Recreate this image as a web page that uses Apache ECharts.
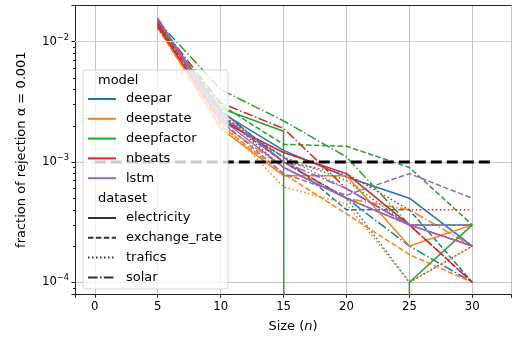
<!DOCTYPE html>
<html><head><meta charset="utf-8">
<script src="https://cdn.jsdelivr.net/npm/echarts@6/dist/echarts.min.js"></script>
<style>html,body{margin:0;padding:0;background:#fff}#c{width:514px;height:339px}</style>
</head><body><div id="c"></div>
<script>
// ---- data ----
const sizes = [5, 10, 15, 20, 25, 30];
const models = ['deepar', 'deepstate', 'deepfactor', 'nbeats', 'lstm'];
const datasets = ['electricity', 'exchange_rate', 'trafics', 'solar'];
const alphaLevel = 0.001;
const refLineX = [0, 31.5];
const xTicks = [0, 5, 10, 15, 20, 25, 30];
const yMinor = [8e-5, 9e-5, 2e-4, 3e-4, 4e-4, 5e-4, 6e-4, 7e-4, 8e-4, 9e-4,
                2e-3, 3e-3, 4e-3, 5e-3, 6e-3, 7e-3, 8e-3, 9e-3];

const deepar_electricity   = [0.0152, 0.0026, 0.00125, 0.00075, 0.0005, 0.0002];
const deepar_exchange_rate = [0.0148, 0.0023, 0.0011, 0.0004, 0.0004, 0.0001];
const deepar_trafics       = [0.0140, 0.0025, 0.0009, 0.0005, 0.0001, 0.0002];
const deepar_solar         = [0.0145, 0.0027, 0.0010, 0.0005, 0.0002, 0.0001];

const deepstate_electricity   = [0.0135, 0.0019, 0.00077, 0.00077, 0.0002, 0.0003];
const deepstate_exchange_rate = [0.0130, 0.0020, 0.0008, 0.00037, 0.00017, 0.0001];
const deepstate_trafics       = [0.0128, 0.0022, 0.00062, 0.00045, 0.0001, 0.0002];
const deepstate_solar         = [0.0138, 0.0021, 0.0009, 0.0005, 0.0004, 0.0002];

const deepfactor_electricity   = [0.0140, 0.0028, 0.0018, 0, 0.0001, 0.0003];
const deepfactor_exchange_rate = [0.0135, 0.0030, 0.0014, 0.00135, 0.0009, 0.0003];
const deepfactor_trafics       = [0.0150, 0.0025, 0.0011, 0.0007, 0.0003, 0.0003];
const deepfactor_solar         = [0.0148, 0.0040, 0.0022, 0.0011, 0.0003, 0.0003];

const nbeats_electricity   = [0.0135, 0.0022, 0.0012, 0.0008, 0.0003, 0.0002];
const nbeats_exchange_rate = [0.0140, 0.0024, 0.0010, 0.0005, 0.0003, 0.0001];
const nbeats_trafics       = [0.0130, 0.0027, 0.0010, 0.0008, 0.0004, 0.0004];
const nbeats_solar         = [0.0145, 0.0031, 0.0019, 0.0006, 0.0003, 0.0001];

const lstm_electricity   = [0.0158, 0.0023, 0.0009, 0.0005, 0.0003, 0.0002];
const lstm_exchange_rate = [0.0155, 0.0022, 0.0008, 0.00053, 0.0008, 0.0005];
const lstm_trafics       = [0.0150, 0.0024, 0.0011, 0.0006, 0.0003, 0.0003];
const lstm_solar         = [0.0152, 0.0025, 0.0010, 0.0006, 0.0003, 0.0003];

const values = {
  deepar: [deepar_electricity, deepar_exchange_rate, deepar_trafics, deepar_solar],
  deepstate: [deepstate_electricity, deepstate_exchange_rate, deepstate_trafics, deepstate_solar],
  deepfactor: [deepfactor_electricity, deepfactor_exchange_rate, deepfactor_trafics, deepfactor_solar],
  nbeats: [nbeats_electricity, nbeats_exchange_rate, nbeats_trafics, nbeats_solar],
  lstm: [lstm_electricity, lstm_exchange_rate, lstm_trafics, lstm_solar]
};

// ---- styles ----
const colors = {deepar:'#1f77b4', deepstate:'#ff7f0e', deepfactor:'#2ca02c', nbeats:'#d62728', lstm:'#9467bd'};
const LW = 1.5;
const dashes = {electricity:'solid', exchange_rate:[5.5, 2.4], trafics:[1.5, 2.5], solar:[9.6, 2.4, 1.5, 2.4]};
const FONT = 'DejaVu Sans';
const LOGMIN = -4.0998, LOGMAX = -1.695;
const YMIN = Math.pow(10, LOGMIN), YMAX = Math.pow(10, LOGMAX);
const XMIN = -1.575, XMAX = 33.075;

const series = [];
// minor grid lines
series.push({
  type:'line', data:[], silent:true, z:1,
  markLine:{silent:true, symbol:'none', animation:false, label:{show:false},
    lineStyle:{color:'#cfcfcf', width:1, type:'solid'},
    data: yMinor.map(v => ({yAxis: v}))}
});
models.forEach(m => {
  datasets.forEach((d, j) => {
    series.push({
      type:'line', name: m + ' ' + d, symbol:'none', z:3,
      // non-positive values clipped far below like matplotlib's log scale
      data: sizes.map((s, i) => [s, values[m][j][i] > 0 ? values[m][j][i] : 1e-300]),
      lineStyle:{color: colors[m], width: LW, type: dashes[d]},
      itemStyle:{color: colors[m]}, animation:false, clip:true
    });
  });
});
series.push({
  type:'line', name:'alpha', symbol:'none', z:4, animation:false,
  data: refLineX.map(x => [x, alphaLevel]),
  lineStyle:{color:'#000', width:3, type:[11, 5]}
});
// legend proxies
models.forEach(m => series.push({type:'line', name:m, data:[], symbol:'none',
  itemStyle:{color:colors[m], opacity:0}, lineStyle:{color:colors[m], width:LW, type:'solid', opacity:1}}));
datasets.forEach(d => series.push({type:'line', name:d, data:[], symbol:'none',
  itemStyle:{color:'#333', opacity:0}, lineStyle:{color:'#333', width:LW, type:dashes[d], opacity:1}}));

const legendCommon = {
  orient:'vertical', left:87, itemWidth:28, itemHeight:14, itemGap:5.8, padding:0,
  selectedMode:false, z:12,
  itemStyle:{opacity:0},
  textStyle:{fontFamily:FONT, fontSize:13, color:'#000', padding:[0,0,0,5], lineHeight:14}
};

const option = {
  animation:false,
  backgroundColor:'#fff',
  grid:{left:75, top:5, right:-12.5, bottom:44.7, containLabel:false},
  xAxis:[{
    type:'value', min:XMIN, max:XMAX,
    name:'Size ({i|n})', nameLocation:'middle', nameGap:26,
    nameTextStyle:{fontFamily:FONT, fontSize:13, color:'#000',
      rich:{i:{fontFamily:FONT, fontSize:13, fontStyle:'italic', color:'#000'}}},
    axisLine:{show:true, onZero:false, lineStyle:{color:'#222', width:1}},
    axisTick:{show:true, length:3.5, lineStyle:{color:'#222'}},
    axisLabel:{fontFamily:FONT, fontSize:11.7, color:'#000', margin:7,
      formatter: v => xTicks.indexOf(Math.round(v*1000)/1000) >= 0 ? String(Math.round(v)) : ''},
    splitLine:{show:true, lineStyle:{color:'#c4c4c4', width:1}}
  },{
    type:'value', min:XMIN, max:XMAX, position:'top',
    axisLine:{show:true, onZero:false, lineStyle:{color:'#222', width:1}},
    axisTick:{show:false}, axisLabel:{show:false}, splitLine:{show:false}
  }],
  yAxis:[{
    type:'log', min:YMIN, max:YMAX, logBase:10,
    name:'fraction of rejection α = 0.001', nameLocation:'middle', nameGap:47,
    nameTextStyle:{fontFamily:FONT, fontSize:13, color:'#000'},
    axisLine:{show:true, onZero:false, lineStyle:{color:'#222', width:1}},
    axisTick:{show:true, length:3.5, lineStyle:{color:'#222'}},
    axisLabel:{fontFamily:FONT, fontSize:11.7, color:'#000', margin:6,
      formatter: v => {
        const l = Math.log10(v), e = Math.round(l);
        if (Math.abs(l - e) > 1e-6) return '';
        return '{b|10}{s|\u2212' + (-e) + '}';
      },
      rich:{b:{fontFamily:FONT, fontSize:11.7, color:'#000'},
            s:{fontFamily:FONT, fontSize:8.2, color:'#000', padding:[0,0,8,0]}}},
    splitLine:{show:true, lineStyle:{color:'#c4c4c4', width:1}}
  },{
    type:'value', min:LOGMIN, max:LOGMAX, position:'left',
    axisLine:{show:false, onZero:false}, axisLabel:{show:false}, splitLine:{show:false},
    axisTick:{show:true, length:2, lineStyle:{color:'#222'}, customValues:yMinor.map(v => Math.log10(v))}
  }],
  legend:[
    Object.assign({}, legendCommon, {top:92, data:models}),
    Object.assign({}, legendCommon, {top:211, data:datasets})
  ],
  graphic:[
    {type:'rect', z:10, silent:true,
      shape:{x:83, y:70, width:145, height:219, r:3},
      style:{fill:'rgba(255,255,255,0.8)', stroke:'rgba(204,204,204,0.8)', lineWidth:1}},
    {type:'text', z:12, silent:true, left:98, top:74,
      style:{text:'model', font:'13px "DejaVu Sans"', fill:'#000'}},
    {type:'text', z:12, silent:true, left:98, top:192,
      style:{text:'dataset', font:'13px "DejaVu Sans"', fill:'#000'}}
  ],
  series: series
};
const chart = echarts.init(document.getElementById('c'), null, {renderer:'canvas'});
chart.setOption(option);
</script></body></html>
